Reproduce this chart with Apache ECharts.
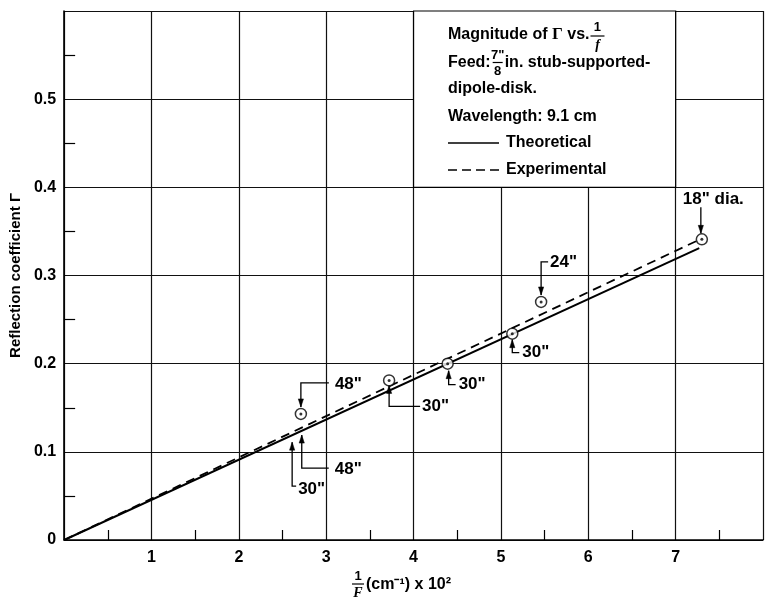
<!DOCTYPE html>
<html><head><meta charset="utf-8">
<script src="https://cdn.jsdelivr.net/npm/echarts@6/dist/echarts.min.js"></script>
<style>html,body{margin:0;padding:0;background:#fff}#c{width:766px;height:604px}</style>
</head><body><div id="c"></div>
<script>
// ---- data ----
const xTickValues = [1, 2, 3, 4, 5, 6, 7];
const yTickValues = [0, 0.1, 0.2, 0.3, 0.4, 0.5];
const theoreticalX = [0, 7.27];
const theoreticalY = [0, 0.331];
const experimentalX = [0, 7.30];
const experimentalY = [0, 0.342];
const measuredX = [2.71, 3.72, 4.39, 5.13, 5.46, 7.30];
const measuredY = [0.143, 0.181, 0.200, 0.234, 0.270, 0.341];
const measuredLabels = ['48"', '30"', '30"', '30"', '24"', '18" dia.'];
const pointerX = [2.61, 2.72];
const pointerY = [0.111, 0.119];
const pointerLabels = ['30"', '48"'];
const legendBoxX = [4, 7];
const legendBoxY = [0.4, 0.6];

const FONT = '"Liberation Sans", Arial, sans-serif';
const SERIF = '"Liberation Serif", "DejaVu Serif", serif';

const chart = echarts.init(document.getElementById('c'));
const zip = (a, b) => a.map((v, i) => [v, b[i]]);

chart.setOption({
  animation: false,
  backgroundColor: '#fff',
  grid: { left: 64, top: 11, width: 704, height: 529 },
  xAxis: {
    type: 'value', min: 0, max: 8, interval: 1,
    axisLine: { lineStyle: { color: '#000', width: 1.6 } },
    axisTick: { show: true, inside: true, length: 1, lineStyle: { color: '#000' } },
    minorTick: { show: true, splitNumber: 2, length: 10, lineStyle: { color: '#000', width: 1.2 } },
    splitLine: { show: true, lineStyle: { color: '#111', width: 1.2 } },
    axisLabel: {
      formatter: v => xTickValues.includes(v) ? String(v) : '',
      color: '#000', fontFamily: FONT, fontWeight: 'bold', fontSize: 16, margin: 10
    }
  },
  yAxis: {
    type: 'value', min: 0, max: 0.6, interval: 0.1,
    name: 'Reflection coefficient Γ', nameLocation: 'middle', nameGap: 34, nameRotate: 90,
    nameTextStyle: { color: '#000', fontFamily: FONT, fontWeight: 'bold', fontSize: 15 },
    axisLine: { lineStyle: { color: '#000', width: 1.6 } },
    axisTick: { show: true, inside: true, length: 1, lineStyle: { color: '#000' } },
    minorTick: { show: true, splitNumber: 2, length: 11, lineStyle: { color: '#000', width: 1.2 } },
    splitLine: { show: true, lineStyle: { color: '#111', width: 1.2 } },
    axisLabel: {
      formatter: v => {
        const t = yTickValues.find(y => Math.abs(y - v) < 1e-9);
        return t === undefined ? '' : (t === 0 ? '0' : t.toFixed(1));
      },
      color: '#000', fontFamily: FONT, fontWeight: 'bold', fontSize: 16, margin: 8
    }
  },
  series: [
    {
      name: 'Theoretical', type: 'line', data: zip(theoreticalX, theoreticalY),
      symbol: 'none', lineStyle: { color: '#000', width: 2 }, z: 3,
      markArea: {
        silent: true,
        itemStyle: { color: '#fff', borderColor: '#000', borderWidth: 1.2, opacity: 1 },
        data: [[{ coord: [legendBoxX[0], legendBoxY[0]] }, { coord: [legendBoxX[1], legendBoxY[1]] }]]
      }
    },
    {
      name: 'Experimental', type: 'line', data: zip(experimentalX, experimentalY),
      symbol: 'none', lineStyle: { color: '#000', width: 1.8, type: [9, 6] }, z: 3
    },
    {
      type: 'scatter', data: zip(measuredX, measuredY), symbol: 'circle', symbolSize: 11,
      itemStyle: { color: '#fff', borderColor: '#000', borderWidth: 1.5 }, z: 5
    },
    {
      type: 'scatter', data: zip(measuredX, measuredY), symbol: 'circle', symbolSize: 3,
      itemStyle: { color: '#000' }, z: 6
    }
  ]
});

// ---- annotations (leaders, labels, legend text) ----
const px = (x, y) => chart.convertToPixel({ gridIndex: 0 }, [x, y]);
const ctx = document.createElement('canvas').getContext('2d');
const measure = (text, font) => { ctx.font = font; return ctx.measureText(text).width; };

const G = [];
const TXT_FONT = 'bold 16px ' + FONT;
function txt(x, y, text, o = {}) {
  G.push({
    type: 'text', z: 100, silent: true,
    style: Object.assign({
      x, y, text, fill: '#000', font: o.font || TXT_FONT,
      align: o.align || 'left', verticalAlign: 'middle'
    }, o.extra || {})
  });
}
function line(x1, y1, x2, y2, w = 1.3, dash) {
  G.push({ type: 'line', z: 100, silent: true, shape: { x1, y1, x2, y2 },
    style: { stroke: '#000', lineWidth: w, lineDash: dash || null } });
}
function poly(points, closed) {
  G.push({ type: closed ? 'polygon' : 'polyline', z: 100, silent: true, shape: { points },
    style: closed ? { fill: '#000', stroke: '#000', lineWidth: 0.5 } : { stroke: '#000', lineWidth: 1.3, fill: null } });
}

// leader layouts: [kind, index, tipDx, tipDy, leg, arm, textDx, textDy]
const leaders = [
  ['m', 5, -1, -6, -26, 0, -18, -34],
  ['m', 4, 0, -7, -33, 7, 9, -33],
  ['m', 3, 0, 6, 13, 7, 10, 13],
  ['m', 2, 1, 7, 14, 7, 10, 14],
  ['m', 1, 0, 5, 21, 31, 33, 21],
  ['m', 0, 0, -7, -24, 28, 34, -23],
  ['p', 1, 0, 0, 33, 27, 33, 34],
  ['p', 0, 0, 0, 44, 4, 6, 47]
];
const ANN_FONT = 'bold 17px ' + FONT;
leaders.forEach(([k, i, tdx, tdy, leg, arm, tx, ty]) => {
  const p = k === 'm' ? px(measuredX[i], measuredY[i]) : px(pointerX[i], pointerY[i]);
  const label = k === 'm' ? measuredLabels[i] : pointerLabels[i];
  const t = [p[0] + tdx, p[1] + tdy];
  const ey = t[1] + leg;
  const pts = [[t[0], t[1]], [t[0], ey]];
  if (arm) pts.push([t[0] + arm, ey]);
  poly(pts, false);
  const d = leg > 0 ? 1 : -1;
  poly([[t[0], t[1]], [t[0] - 2.6, t[1] + d * 8], [t[0] + 2.6, t[1] + d * 8]], true);
  txt(t[0] + tx, t[1] + ty, label, { font: ANN_FONT });
});

// legend box text
const LX = 448;
const F16 = 'bold 16px ' + FONT;
G.push({ type: 'text', z: 100, silent: true, style: {
  x: LX, y: 35, verticalAlign: 'middle', fill: '#000',
  text: '{a|Magnitude of }{g|Γ}{a| vs.}',
  rich: { a: { font: F16 }, g: { font: 'bold 17px ' + SERIF } }
}});
let fx = LX + measure('Magnitude of ', F16) + measure('Γ', 'bold 17px ' + SERIF) + measure(' vs.', F16) + 8;
txt(fx, 27, '1', { align: 'center', font: 'bold 13px ' + FONT });
line(fx - 7, 36, fx + 7, 36, 1.2);
txt(fx, 45, 'f', { align: 'center', font: 'italic bold 14px ' + SERIF });

txt(LX, 63, 'Feed:', { font: F16 });
let f2 = LX + measure('Feed:', F16) + 7;
txt(f2, 55, '7"', { align: 'center', font: 'bold 13px ' + FONT });
line(f2 - 5, 62.5, f2 + 5, 62.5, 1.2);
txt(f2, 71, '8', { align: 'center', font: 'bold 13px ' + FONT });
txt(f2 + 7, 63, 'in. stub-supported-', { font: F16 });
txt(LX, 89, 'dipole-disk.', { font: F16 });
txt(LX, 117, 'Wavelength: 9.1 cm', { font: F16 });
line(LX, 143, LX + 51, 143, 1.4);
txt(LX + 58, 143, 'Theoretical', { font: F16 });
line(LX, 170, LX + 52, 170, 1.4, [9, 5]);
txt(LX + 58, 170, 'Experimental', { font: F16 });

// x-axis title with fraction
const XN = 358, XY = 585;
txt(XN, 576, '1', { align: 'center', font: 'bold 13px ' + FONT });
line(XN - 6, 584, XN + 6, 584, 1.2);
txt(XN, 593, 'F', { align: 'center', font: 'italic bold 14px ' + SERIF });
txt(XN + 8, XY, '(cm⁻¹) x 10²', { font: 'bold 16px ' + FONT });

chart.setOption({ graphic: G });
</script></body></html>
